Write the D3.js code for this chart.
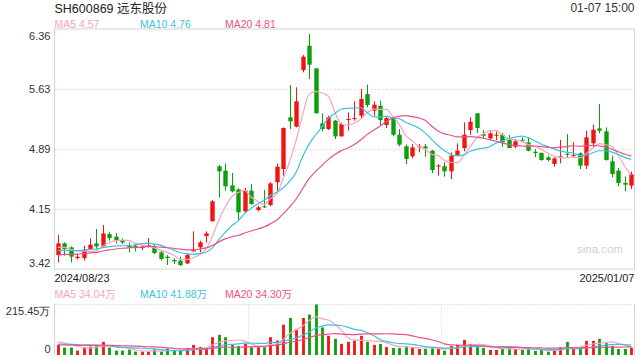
<!DOCTYPE html>
<html>
<head>
<meta charset="utf-8">
<script src="https://d3js.org/d3.v7.min.js"></script>
<style>
  body { margin: 0; background: #fff; }
  svg { display: block; font-family: "Liberation Sans", Arial, "Noto Sans CJK SC", sans-serif; }
  .frame { fill: none; stroke: #d4d4d4; stroke-width: 1; }
  .grid line { stroke: #e2e2e2; stroke-width: 1.5; stroke-dasharray: 2,2; }
  .grid path { display: none; }
  .yaxis path, .yaxis line { display: none; }
  .yaxis text { font-size: 11px; fill: #333; }
  .ma { fill: none; stroke-width: 1.2; }
</style>
</head>
<body>
<svg id="chart" width="640" height="360"></svg>
<script>
// daily OHLC, 2024/08/23 .. 2025/01/07
const open = [3.591,3.734,3.685,3.554,3.554,3.665,3.734,3.697,3.848,3.816,
  3.775,3.705,3.705,3.677,3.697,3.685,3.624,3.571,3.530,3.522,
  3.489,3.636,3.685,3.824,4.004,4.678,4.625,4.445,4.396,4.126,
  4.380,4.143,4.188,4.204,4.482,4.645,5.278,5.163,5.857,6.155,
  5.878,5.204,5.135,5.237,5.045,5.250,5.265,5.298,5.563,5.359,
  5.420,5.184,5.269,5.065,4.922,4.800,4.918,4.922,4.869,4.682,
  4.678,4.616,4.816,4.902,5.122,5.327,5.073,5.020,5.061,5.065,
  5.000,4.918,5.004,4.971,4.857,4.841,4.788,4.706,4.794,4.831,
  4.814,4.837,4.686,4.959,5.143,5.106,4.739,4.625,4.473,4.441];
const close = [3.734,3.665,3.571,3.571,3.656,3.718,3.697,3.856,3.799,3.767,
  3.746,3.685,3.685,3.693,3.714,3.616,3.542,3.554,3.514,3.469,
  3.591,3.656,3.746,3.856,4.249,4.616,4.433,4.371,4.114,4.380,
  4.216,4.176,4.176,4.469,4.673,5.147,5.229,5.474,6.021,5.923,
  5.327,5.135,5.278,5.045,5.196,5.257,5.269,5.502,5.429,5.433,
  5.245,5.269,5.065,4.943,4.767,4.910,4.922,4.898,4.632,4.686,
  4.616,4.808,4.869,5.065,5.224,5.147,5.053,5.082,5.065,4.971,
  4.902,4.984,4.992,4.869,4.841,4.755,4.755,4.775,4.798,4.827,
  4.818,4.686,5.033,5.126,5.114,4.755,4.584,4.473,4.453,4.579];
const high = [3.840,3.746,3.697,3.603,3.705,3.795,3.910,3.959,3.869,3.861,
  3.795,3.746,3.734,3.714,3.799,3.726,3.644,3.591,3.550,3.571,
  3.612,3.881,3.767,3.881,4.265,4.694,4.714,4.596,4.408,4.412,
  4.461,4.196,4.388,4.482,4.714,5.155,5.674,5.645,6.041,6.298,
  5.878,5.327,5.298,5.245,5.216,5.339,5.474,5.625,5.678,5.474,
  5.482,5.286,5.286,5.135,4.943,4.951,4.951,4.951,4.881,4.706,
  4.727,4.849,4.959,5.216,5.278,5.327,5.122,5.106,5.106,5.086,
  5.061,5.012,5.033,5.033,4.890,4.849,4.808,4.788,5.000,5.073,
  4.971,4.849,5.114,5.188,5.441,5.155,4.808,4.657,4.555,4.612];
const low = [3.501,3.583,3.501,3.534,3.522,3.652,3.665,3.685,3.767,3.734,
  3.726,3.624,3.636,3.652,3.685,3.603,3.522,3.469,3.481,3.452,
  3.481,3.636,3.624,3.746,4.004,4.298,4.380,4.359,4.012,4.102,
  4.208,4.126,4.167,4.188,4.380,4.563,5.135,5.155,5.829,5.747,
  5.327,5.106,5.122,5.012,5.041,5.114,5.237,5.257,5.400,5.298,
  5.175,5.147,5.045,4.922,4.706,4.775,4.849,4.796,4.596,4.563,
  4.551,4.522,4.808,4.861,5.065,5.086,5.024,5.000,5.000,4.918,
  4.902,4.902,4.971,4.861,4.788,4.747,4.739,4.673,4.714,4.788,
  4.780,4.645,4.645,4.902,5.082,4.747,4.543,4.433,4.371,4.400];
// volume in 万 shares
const volume = [43.1,31.6,31.6,18.7,33.0,35.9,43.1,56.0,31.6,18.7,
  18.7,23.0,14.4,14.4,14.4,24.4,14.4,27.3,17.2,17.2,
  30.2,43.1,34.5,28.7,76.1,86.2,76.1,43.1,38.8,47.4,
  33.0,33.0,33.0,76.1,61.8,129.3,158.0,110.6,158.0,172.4,
  215.45,117.8,81.9,68.9,47.4,56.0,61.8,81.9,56.0,43.1,
  47.4,34.5,30.2,30.2,35.9,31.6,25.9,25.9,31.6,25.9,
  18.7,38.8,43.1,64.6,47.4,35.9,30.2,21.5,21.5,25.9,
  31.6,25.9,21.5,25.9,17.2,21.5,14.4,21.5,33.0,56.0,
  25.9,31.6,60.3,60.3,68.9,50.3,38.8,25.9,25.9,31.6];
// sessions before the window, estimated so the MA lines start where they are drawn
const leadClose = [3.52,3.55,3.53,3.51,3.54,3.56,3.53,3.52,3.55,3.57,
  3.58,3.62,3.60,3.59,3.62,3.66,3.69,3.67,3.67];
const leadVolume = [36,42,40,38,41,37,39,40,38,39,35,40,38,37,40,55,62,58,62];

const title = "SH600869 远东股份";
const stamp = "01-07 15:00";
const dateLabels = ["2024/08/23", "2025/01/07"];
const priceTicks = [3.42, 4.155, 4.89, 5.625, 6.36];
const priceTickLabels = ["3.42", "4.15", "4.89", "5.63", "6.36"];
const volTicks = [0, 215.45];
const volTickLabels = ["0", "215.45万"];
const maPeriods = [5, 10, 20];
const maColors = ["#f9a3c4", "#3cc3df", "#ee5087"];
const priceLegend = ["MA5 4.57", "MA10 4.76", "MA20 4.81"];
const volLegend = ["MA5 34.04万", "MA10 41.88万", "MA20 34.30万"];

const UP = "#f01510", DOWN = "#0ba00b";
const L = 54.5, R = 634.5;
const pTop = 29, pBot = 269, vTop = 304.5, vBot = 355;

const svg = d3.select("#chart");
const n = close.length;
const x = d3.scaleBand().domain(d3.range(n)).range([L, R]);
const bw = x.bandwidth();
const cx = i => x(i) + bw / 2;
const y = d3.scaleLinear().domain([3.42, 6.36]).range([pBot, pTop]);
const yv = d3.scaleLinear().domain([0, 215.45]).range([vBot, vTop]);

function movingAvg(lead, vals, p) {
  const all = lead.concat(vals);
  return vals.map((_, i) => d3.mean(all.slice(i + lead.length - p + 1, i + lead.length + 1)));
}

// header texts
svg.append("text").attr("x", L).attr("y", 12.5).attr("font-size", 12.5).attr("fill", "#222").text(title);
svg.append("text").attr("x", R).attr("y", 11.5).attr("text-anchor", "end").attr("font-size", 12).attr("fill", "#333").text(stamp);
const legendX = [L, 140, 225];
priceLegend.forEach((t, k) => svg.append("text").attr("x", legendX[k]).attr("y", 27.5)
  .attr("font-size", 10.5).attr("fill", maColors[k]).text(t));
volLegend.forEach((t, k) => svg.append("text").attr("x", legendX[k]).attr("y", 297.5)
  .attr("font-size", 10.5).attr("fill", maColors[k]).text(t));

// price grid
svg.append("g").attr("class", "grid").attr("transform", `translate(${L},0)`)
  .call(d3.axisLeft(y).tickValues(priceTicks.slice(1, -1)).tickSize(-(R - L)).tickFormat(""));

// volume grid: dotted top and vertical thirds
svg.append("line").attr("x1", L).attr("x2", R).attr("y1", vTop).attr("y2", vTop)
  .attr("stroke", "#cfcfcf").attr("stroke-dasharray", "1,2");
[1, 2].forEach(k => {
  const gx = Math.round(L + (R - L) * k / 3) + 0.5;
  svg.append("line").attr("x1", gx).attr("x2", gx).attr("y1", vTop).attr("y2", vBot)
    .attr("stroke", "#cfcfcf").attr("stroke-dasharray", "1,2");
});

// frames
svg.append("rect").attr("class", "frame").attr("x", L).attr("y", pTop).attr("width", R - L).attr("height", pBot - pTop);
svg.append("path").attr("class", "frame").attr("d", `M${L},${vTop}V${vBot}M${R},${vTop}V${vBot}`);

// price axis labels
const ya = svg.append("g").attr("class", "yaxis").attr("transform", `translate(${L},0)`)
  .call(d3.axisLeft(y).tickValues(priceTicks).tickSize(0).tickPadding(4)
    .tickFormat((d, i) => priceTickLabels[i]));
ya.selectAll("text").attr("transform", d => d === 6.36 ? "translate(0,7)" : d === 3.42 ? "translate(0,-6)" : null);

const va = svg.append("g").attr("class", "yaxis").attr("transform", `translate(${L},0)`)
  .call(d3.axisLeft(yv).tickValues(volTicks).tickSize(0).tickPadding(4)
    .tickFormat((d, i) => volTickLabels[i]));
va.selectAll("text").attr("transform", d => d === 0 ? "translate(0,-6.5)" : "translate(0,6.5)");

// date labels
svg.append("text").attr("x", L).attr("y", 282).attr("font-size", 11).attr("fill", "#222").text(dateLabels[0]);
svg.append("text").attr("x", R).attr("y", 282).attr("text-anchor", "end").attr("font-size", 11).attr("fill", "#222").text(dateLabels[1]);

// watermark
svg.append("text").attr("x", 623).attr("y", 253).attr("text-anchor", "end").attr("font-size", 11.5)
  .attr("fill", "#cfcfcf").text("sina.com");

// candles
const idx = d3.range(n);
const col = i => close[i] >= open[i] ? UP : DOWN;
const cw = 4.4;
const cg = svg.append("g");
cg.selectAll("line.wick").data(idx).join("line")
  .attr("x1", i => Math.round(cx(i)) + 0.5).attr("x2", i => Math.round(cx(i)) + 0.5)
  .attr("y1", i => y(high[i])).attr("y2", i => y(low[i]))
  .attr("stroke", col).attr("stroke-width", 1);
cg.selectAll("rect.body").data(idx).join("rect")
  .attr("x", i => Math.round(cx(i)) + 0.5 - cw / 2)
  .attr("width", cw)
  .attr("y", i => y(Math.max(open[i], close[i])))
  .attr("height", i => Math.max(1, y(Math.min(open[i], close[i])) - y(Math.max(open[i], close[i]))))
  .attr("fill", col);

// volume bars
const vw = 2.8;
svg.append("g").selectAll("rect").data(idx).join("rect")
  .attr("x", i => Math.round(cx(i)) + 0.5 - vw / 2)
  .attr("width", vw)
  .attr("y", i => yv(volume[i]))
  .attr("height", i => vBot - yv(volume[i]))
  .attr("fill", col);

// moving averages
maPeriods.forEach((p, k) => {
  const m = movingAvg(leadClose, close, p);
  svg.append("path").attr("class", "ma").attr("stroke", maColors[k])
    .attr("d", d3.line().x((d, i) => cx(i)).y(d => y(d)).curve(d3.curveMonotoneX)(m));
  const mv = movingAvg(leadVolume, volume, p);
  svg.append("path").attr("class", "ma").attr("stroke", maColors[k])
    .attr("d", d3.line().x((d, i) => cx(i)).y(d => yv(d)).curve(d3.curveMonotoneX)(mv));
});
</script>
</body>
</html>
